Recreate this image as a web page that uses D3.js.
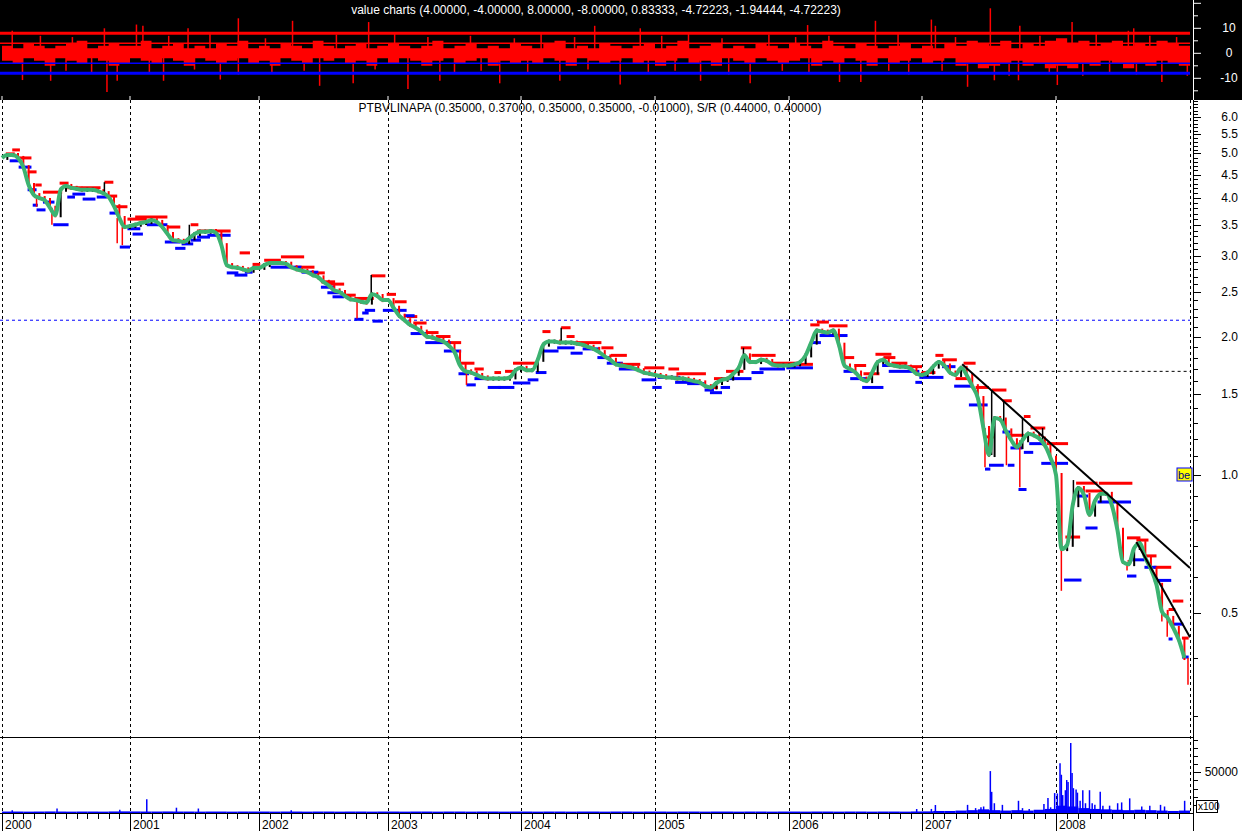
<!DOCTYPE html>
<html><head><meta charset="utf-8">
<script src="https://cdn.jsdelivr.net/npm/d3@7"></script>
<style>
body{margin:0;background:#fff;overflow:hidden}
text{font-family:"Liberation Sans",Arial,sans-serif}
</style>
</head><body>
<svg id="c" width="1242" height="831"></svg>
<script>
// ---------- DATA ----------
const years = [2000,2001,2002,2003,2004,2005,2006,2007,2008,2009];
const yearLabels = ["2000","2001","2002","2003","2004","2005","2006","2007","2008"];
const priceTicks = [0.5,1.0,1.5,2.0,2.5,3.0,3.5,4.0,4.5,5.0,5.5,6.0];
const valueTicks = [-10,0,10];
const volumeTicks = [50000];
const topTitle = "value charts (4.00000, -4.00000, 8.00000, -8.00000, 0.83333, -4.72223, -1.94444, -4.72223)";
const mainTitle = "PTBVLINAPA (0.35000, 0.37000, 0.35000, 0.35000, -0.01000), S/R (0.44000, 0.40000)";

// semi-monthly closes (24 per year, 2000..2008)
const closes = [
 4.89,4.96,4.96,4.89,4.67,4.27,4.06,4.00,3.96,3.81,3.67,4.17,4.25,4.21,4.19,4.17,4.17,4.17,4.14,4.10,4.02,3.84,3.62,3.46,
 3.48,3.50,3.53,3.55,3.58,3.55,3.46,3.34,3.24,3.23,3.21,3.27,3.34,3.38,3.38,3.39,3.36,3.16,2.86,2.83,2.82,2.80,2.78,2.82,
 2.82,2.86,2.89,2.89,2.89,2.88,2.83,2.80,2.78,2.76,2.72,2.69,2.63,2.58,2.52,2.50,2.45,2.41,2.40,2.38,2.37,2.47,2.45,2.40,
 2.40,2.31,2.22,2.17,2.12,2.09,2.05,2.00,1.99,1.97,1.95,1.91,1.85,1.73,1.68,1.67,1.65,1.63,1.62,1.62,1.62,1.62,1.63,1.69,
 1.71,1.69,1.69,1.78,1.92,1.95,1.95,1.94,1.94,1.94,1.93,1.92,1.90,1.88,1.85,1.81,1.78,1.74,1.73,1.72,1.71,1.69,1.67,1.66,
 1.65,1.64,1.63,1.63,1.62,1.62,1.61,1.60,1.59,1.56,1.55,1.585,1.61,1.62,1.66,1.71,1.82,1.76,1.76,1.78,1.77,1.74,1.73,1.73,
 1.73,1.74,1.76,1.82,1.94,2.06,2.05,2.04,2.06,1.92,1.73,1.70,1.67,1.62,1.60,1.67,1.76,1.78,1.74,1.73,1.72,1.72,1.70,1.66,
 1.65,1.67,1.72,1.76,1.73,1.67,1.65,1.71,1.65,1.56,1.47,1.265,1.105,1.33,1.32,1.25,1.19,1.15,1.19,1.23,1.22,1.20,1.16,1.09,
 1.00,0.69,0.705,0.86,0.937,0.905,0.82,0.88,0.91,0.91,0.86,0.76,0.647,0.64,0.694,0.711,0.66,0.625,0.577,0.504,0.489,0.465,0.438,0.40
];

// price wicks [decimal year, extreme price]
const wicks = [
 [2000.27,3.83],[2000.39,3.50],[2000.80,4.33],[2000.90,3.19],[2000.94,3.16],[2001.46,3.50],
 [2002.76,2.19],[2002.87,2.72],[2003.59,1.57],[2004.30,2.09],[2005.66,1.89],
 [2007.47,1.04],[2007.52,1.53],[2007.61,1.45],[2007.63,1.05],[2007.73,0.94],[2007.75,1.33],[2007.90,1.265],
 [2008.04,0.56],[2008.13,0.975],[2008.53,0.62],[2008.79,0.48],[2008.83,0.445],[2008.985,0.35]
];

// resistance segments [start, end, level]
const resistance = [
 [2000.03,2000.10,4.99],[2000.08,2000.14,5.09],[2000.12,2000.23,4.89],[2000.20,2000.27,4.56],[2000.26,2000.31,4.27],
 [2000.32,2000.47,4.12],[2000.45,2000.52,4.31],[2000.51,2000.77,4.21],[2000.80,2000.87,4.33],[2000.84,2000.90,4.04],
 [2000.88,2000.98,3.83],[2000.98,2001.13,3.60],[2001.04,2001.29,3.64],[2001.29,2001.39,3.46],[2001.47,2001.53,3.50],
 [2001.52,2001.78,3.39],[2001.85,2001.93,3.04],[2001.95,2002.01,2.87],[2002.04,2002.17,2.93],[2002.17,2002.35,2.98],
 [2002.30,2002.43,2.83],[2002.41,2002.51,2.75],[2002.48,2002.59,2.63],[2002.54,2002.66,2.60],[2002.64,2002.75,2.46],
 [2002.74,2002.89,2.42],[2002.87,2002.98,2.71],[2002.99,2003.06,2.47],[2003.05,2003.14,2.38],[2003.14,2003.22,2.21],
 [2003.19,2003.29,2.14],[2003.29,2003.38,2.04],[2003.36,2003.47,2.00],[2003.44,2003.55,1.94],[2003.53,2003.65,1.75],
 [2003.65,2003.72,1.70],[2003.80,2003.85,1.67],[2003.88,2003.95,1.68],[2003.94,2004.11,1.75],[2004.16,2004.22,2.05],
 [2004.30,2004.37,2.09],[2004.34,2004.40,2.00],[2004.40,2004.60,1.94],[2004.60,2004.69,1.89],[2004.67,2004.79,1.82],
 [2004.76,2004.89,1.74],[2004.92,2005.07,1.71],[2005.10,2005.18,1.70],[2005.16,2005.38,1.66],[2005.40,2005.47,1.55],
 [2005.44,2005.56,1.62],[2005.53,2005.66,1.68],[2005.64,2005.72,1.89],[2005.72,2005.90,1.82],[2005.88,2006.07,1.75],
 [2005.95,2006.18,1.74],[2006.16,2006.23,2.12],[2006.21,2006.30,2.15],[2006.30,2006.44,2.11],[2006.42,2006.49,1.80],
 [2006.49,2006.58,1.73],[2006.56,2006.68,1.66],[2006.65,2006.77,1.83],[2006.71,2006.80,1.80],[2006.77,2006.89,1.75],
 [2006.89,2007.00,1.72],[2007.00,2007.10,1.67],[2007.10,2007.16,1.82],[2007.15,2007.26,1.78],[2007.25,2007.34,1.62],
 [2007.31,2007.40,1.75],[2007.40,2007.50,1.55],[2007.47,2007.54,1.21],[2007.52,2007.63,1.53],[2007.60,2007.67,1.45],
 [2007.64,2007.76,1.22],[2007.76,2007.81,1.34],[2007.81,2007.92,1.265],[2007.93,2008.09,1.17],[2008.07,2008.18,0.733],
 [2008.15,2008.31,0.96],[2008.32,2008.57,0.96],[2008.22,2008.35,0.923],[2008.53,2008.63,0.73],[2008.60,2008.69,0.722],
 [2008.66,2008.75,0.667],[2008.73,2008.86,0.63],[2008.87,2008.95,0.532],[2008.84,2008.89,0.51],[2008.94,2008.99,0.442]
];

// support segments [start, end, level]
const support = [
 [2000.06,2000.14,4.82],[2000.13,2000.23,4.67],[2000.20,2000.27,4.17],[2000.24,2000.28,3.86],[2000.27,2000.34,3.77],
 [2000.32,2000.41,3.92],[2000.40,2000.52,3.50],[2000.51,2000.57,4.02],[2000.55,2000.65,4.08],[2000.63,2000.73,3.98],
 [2000.74,2000.82,4.02],[2000.84,2000.92,3.71],[2000.92,2001.00,3.13],[2000.98,2001.08,3.43],[2001.02,2001.10,3.34],
 [2001.13,2001.29,3.50],[2001.27,2001.39,3.21],[2001.35,2001.43,3.11],[2001.40,2001.49,3.18],[2001.47,2001.55,3.24],
 [2001.52,2001.62,3.29],[2001.60,2001.78,3.32],[2001.75,2001.84,2.75],[2001.81,2001.91,2.72],[2001.89,2001.95,2.76],
 [2001.95,2002.01,2.82],[2002.09,2002.33,2.83],[2002.33,2002.46,2.76],[2002.48,2002.59,2.56],[2002.53,2002.65,2.49],
 [2002.57,2002.66,2.44],[2002.74,2002.81,2.18],[2002.80,2002.85,2.25],[2002.82,2002.90,2.28],[2002.88,2002.96,2.16],
 [2002.96,2003.14,2.28],[2003.12,2003.20,2.22],[2003.17,2003.29,2.03],[2003.28,2003.47,1.94],[2003.42,2003.55,1.86],
 [2003.53,2003.61,1.66],[2003.59,2003.66,1.57],[2003.65,2003.77,1.62],[2003.75,2003.85,1.55],[2003.83,2003.95,1.55],
 [2003.94,2004.07,1.585],[2004.05,2004.13,1.61],[2004.11,2004.19,1.67],[2004.16,2004.28,1.86],[2004.27,2004.40,1.89],
 [2004.37,2004.46,1.84],[2004.46,2004.59,1.88],[2004.57,2004.67,1.80],[2004.64,2004.76,1.75],[2004.73,2004.87,1.70],
 [2004.90,2005.01,1.61],[2004.98,2005.05,1.55],[2005.02,2005.19,1.63],[2005.15,2005.28,1.59],[2005.24,2005.37,1.58],
 [2005.37,2005.44,1.53],[2005.41,2005.50,1.51],[2005.49,2005.56,1.55],[2005.54,2005.72,1.62],[2005.72,2005.81,1.67],
 [2005.78,2005.97,1.70],[2005.98,2006.18,1.71],[2006.17,2006.24,1.94],[2006.23,2006.44,2.01],[2006.41,2006.49,1.68],
 [2006.46,2006.58,1.62],[2006.55,2006.71,1.55],[2006.70,2006.77,1.73],[2006.75,2006.98,1.68],[2006.95,2007.00,1.59],
 [2006.98,2007.16,1.63],[2007.15,2007.25,1.72],[2007.24,2007.38,1.56],[2007.35,2007.49,1.42],[2007.47,2007.51,1.03],
 [2007.50,2007.61,1.05],[2007.60,2007.66,1.24],[2007.64,2007.69,1.05],[2007.66,2007.75,1.145],[2007.72,2007.78,0.93],
 [2007.76,2007.83,1.12],[2007.80,2007.92,1.17],[2007.89,2008.09,1.06],[2008.06,2008.19,0.591],[2008.16,2008.24,0.90],
 [2008.22,2008.31,0.767],[2008.31,2008.56,0.874],[2008.53,2008.60,0.603],[2008.57,2008.66,0.654],[2008.66,2008.75,0.63],
 [2008.73,2008.86,0.59],[2008.84,2008.87,0.44],[2008.85,2008.95,0.474],[2008.94,2008.99,0.402]
];

// trend lines [[t0,p0],[t1,p1]]
const trendLines = [
 [[2007.30,1.74],[2009.00,0.628]],
 [[2008.60,0.715],[2009.00,0.444]]
];
const blueLevel = 2.17;
const blackLevel = [2007.43, 1.68];
const beLevel = 1.0;

// value chart: monthly high / low envelope
const valueHigh = [
 3,2,4,3,2,3,4,5,2,3,4,3, 3,5,2,3,4,2,3,2,4,3,5,2, 3,2,4,3,2,5,3,2,3,4,2,3,
 4,3,2,3,5,2,3,4,2,3,2,4, 3,2,4,5,2,3,2,4,3,2,3,4, 2,3,5,2,3,4,2,3,2,4,3,2,
 4,3,2,5,3,2,4,3,2,3,4,2, 3,2,4,3,5,4,3,5,2,4,3,5, 6,4,5,3,4,5,3,4,3,5,4,3
];
const valueLow = [
 -3,-4,-2,-3,-5,-2,-3,-4,-2,-3,-5,-4, -2,-3,-4,-2,-3,-5,-2,-3,-4,-3,-2,-4,
 -3,-5,-2,-3,-4,-2,-3,-2,-4,-3,-5,-2, -4,-2,-3,-5,-3,-2,-4,-3,-2,-5,-3,-4,
 -3,-4,-2,-3,-5,-2,-3,-4,-3,-2,-4,-3, -5,-3,-2,-4,-3,-5,-2,-3,-4,-2,-3,-4,
 -3,-2,-5,-3,-4,-2,-3,-5,-2,-4,-3,-2, -4,-3,-2,-5,-4,-6,-5,-4,-3,-5,-4,-6,
 -5,-6,-4,-5,-3,-4,-6,-4,-5,-3,-4,-5
];
const valueSpikes = [
 [2000.08,9],[2000.80,10],[2001.05,11.5],[2001.10,11],[2001.45,10],[2001.84,14],[2002.26,13],[2002.85,12.5],
 [2004.55,11],[2004.89,10],[2006.14,11.3],[2006.65,13],[2007.07,13.5],[2007.10,11],[2007.51,18],[2007.73,11],
 [2008.12,12.5],[2008.54,9],[2008.58,10],
 [2000.16,-10.7],[2000.38,-11],[2000.82,-15.5],[2000.90,-11],[2001.26,-11],[2001.70,-10.5],[2001.84,-8.5],
 [2002.47,-13],[2002.73,-12],[2003.15,-14.3],[2003.39,-11],[2003.84,-12],[2004.29,-11],[2004.74,-12.5],
 [2005.34,-11],[2005.71,-12],[2006.38,-11.5],[2006.54,-11.5],[2007.34,-13.4],[2007.54,-10.8],[2007.72,-10.8],
 [2008.01,-12.7],[2008.79,-11.5],[2008.98,-9],
 [2000.30,7],[2000.55,6.5],[2001.30,7],[2001.62,8],[2002.05,6],[2002.60,7.5],[2003.05,8],[2003.30,6.5],
 [2003.62,7],[2003.95,6],[2004.15,8],[2004.40,6.5],[2005.05,7],[2005.25,8.5],[2005.50,6],[2005.85,7.5],
 [2006.05,6.5],[2006.30,7],[2006.82,8],[2007.25,6.5],[2007.88,7],[2008.30,8],[2008.70,7],[2008.90,6.5],
 [2000.50,-7],[2000.70,-8],[2001.15,-7.5],[2001.50,-6.5],[2002.10,-8],[2002.35,-7],[2002.90,-6.5],[2003.50,-8],
 [2003.70,-7],[2004.05,-7.5],[2004.50,-6.5],[2004.95,-8],[2005.15,-7],[2005.55,-8.5],[2005.95,-7],[2006.15,-8],
 [2006.75,-7],[2006.90,-8.5],[2007.15,-7],[2007.65,-9],[2007.95,-8],[2008.20,-9],[2008.40,-7.5],[2008.60,-8.5]
];
const valueLevels = [8,4,-4,-8];

// volume (x100): monthly base + spikes
const volumeBase = [
 1800,1800,1700,1800,1900,1800,1700,1800,1800,1700,1900,2000,
 1900,1800,1800,1900,1800,1800,1700,1800,1800,1700,1800,1800,
 1800,1700,1800,1800,1700,1800,1800,1700,1800,1800,1700,1800,
 1800,1700,1800,1800,1700,1800,1800,1700,1800,1800,1700,1800,
 1800,1700,1800,1800,1700,1800,1800,1700,1800,1800,1700,1800,
 1800,1700,1800,1800,1700,1800,1800,1700,1800,1800,1700,1800,
 1800,1700,1800,1800,1700,1800,1800,1700,1800,1800,1700,1900,
 2000,2500,2500,3000,3500,4500,3500,3000,3500,3000,4000,5000,
 9000,8000,6000,5000,4500,4000,3500,4000,3500,3000,2500,3000
];
const volumeSpikes = [
 [2000.08,3500],[2000.43,5500],[2000.92,4000],[2001.13,17000],[2001.36,6500],[2001.53,5500],[2002.25,3500],
 [2006.96,4900],[2007.07,5000],[2007.10,9800],[2007.34,10000],[2007.40,6000],[2007.44,7000],[2007.46,8000],
 [2007.51,51500],[2007.52,26000],[2007.54,12000],[2007.60,10000],[2007.72,15000],[2007.75,6000],[2007.80,4900],
 [2007.91,11000],[2007.94,18500],[2007.96,7000],[2007.99,24500],[2008.01,24000],[2008.03,61000],[2008.04,47000],
 [2008.05,22000],[2008.07,28000],[2008.08,40500],[2008.09,38000],[2008.11,86000],[2008.12,49000],[2008.13,30500],
 [2008.15,29000],[2008.16,25000],[2008.18,15000],[2008.20,28000],[2008.22,12000],[2008.25,28000],[2008.27,12000],
 [2008.29,10000],[2008.33,26000],[2008.35,9000],[2008.40,9000],[2008.46,12000],[2008.49,13000],[2008.55,18000],
 [2008.64,8000],[2008.70,9000],[2008.78,10000],[2008.81,8000],[2008.96,15000]
];

// ---------- LAYOUT ----------
const svg = d3.select("#c");
const axisX = 1193;
const x = d3.scaleLinear().domain(years).range([2,130,259,388,521,655,789,922,1056,1190]);
const yP = d3.scaleLog().domain([0.2694, 6.535]).range([737, 100]);
const yV = d3.scaleLinear().domain([-15, 20]).range([90.8, 3.3]);
const yVol = d3.scaleLinear().domain([0, 50000]).range([813, 772.3]);
const tOf = i => 2000 + i/24;

// ---------- TOP PANEL ----------
svg.append("rect").attr("x",0).attr("y",0).attr("width",1242).attr("height",100).attr("fill","#000");
const band = valueHigh.map((h,m)=>({t:2000+m/12, hi:h, lo:valueLow[m]}));
band.push({t:2009, hi:valueHigh[valueHigh.length-1], lo:valueLow[valueLow.length-1]});
svg.append("path").datum(band)
  .attr("d", d3.area().x(d=>x(d.t)).y0(d=>yV(d.lo)).y1(d=>yV(d.hi)).curve(d3.curveStepAfter))
  .attr("fill","#ff0000");
svg.append("g").selectAll("line").data(valueSpikes).join("line")
  .attr("x1",d=>x(d[0])).attr("x2",d=>x(d[0]))
  .attr("y1",yV(0)).attr("y2",d=>yV(d[1]))
  .attr("stroke","#ff0000").attr("stroke-width",1.5);
svg.append("g").selectAll("line").data(valueLevels).join("line")
  .attr("x1",0).attr("x2",x(2009)).attr("y1",d=>yV(d)).attr("y2",d=>yV(d))
  .attr("stroke",d=>d>0?"#ff0000":"#0000ff")
  .attr("stroke-width",d=>Math.abs(d)>5?3:1.5);
svg.append("text").attr("x",596).attr("y",14).attr("text-anchor","middle")
  .attr("font-size",12).attr("fill","#fff").text(topTitle);
const topAxis = svg.append("g");
topAxis.append("line").attr("x1",axisX+0.5).attr("x2",axisX+0.5).attr("y1",0).attr("y2",100).attr("stroke","#fff");
topAxis.selectAll("line.t").data(d3.range(-15,21,5)).join("line").attr("class","t")
  .attr("x1",axisX).attr("x2",d=>axisX+(d%10===0?8:5)).attr("y1",d=>yV(d)).attr("y2",d=>yV(d))
  .attr("stroke","#fff");
topAxis.selectAll("text").data(valueTicks).join("text")
  .attr("x",1229).attr("y",d=>yV(d)+4).attr("text-anchor","middle")
  .attr("font-size",12).attr("fill","#fff").text(d=>d);
svg.append("g").selectAll("line").data(years.slice(0,9)).join("line")
  .attr("x1",d=>x(d)).attr("x2",d=>x(d)).attr("y1",96).attr("y2",100).attr("stroke","#fff");

// ---------- MAIN PANEL ----------
const main = svg.append("g");
main.selectAll("line.grid").data(years).join("line").attr("class","grid")
  .attr("x1",d=>Math.round(x(d))+0.5).attr("x2",d=>Math.round(x(d))+0.5)
  .attr("y1",100).attr("y2",813).attr("stroke","#000").attr("stroke-dasharray","3,3");
main.append("line").attr("x1",0).attr("x2",x(2009)).attr("y1",yP(blueLevel)).attr("y2",yP(blueLevel))
  .attr("stroke","#0000ff").attr("stroke-dasharray","3,3");
main.append("line").attr("x1",x(blackLevel[0])).attr("x2",x(2009)).attr("y1",yP(blackLevel[1])).attr("y2",yP(blackLevel[1]))
  .attr("stroke","#000").attr("stroke-dasharray","3,3");
svg.append("text").attr("x",590).attr("y",112).attr("text-anchor","middle")
  .attr("font-size",12).attr("fill","#000").text(mainTitle);

main.append("g").selectAll("line").data(resistance).join("line")
  .attr("x1",d=>x(d[0])).attr("x2",d=>x(d[1])).attr("y1",d=>yP(d[2])).attr("y2",d=>yP(d[2]))
  .attr("stroke","#ff0000").attr("stroke-width",3);
main.append("g").selectAll("line").data(support).join("line")
  .attr("x1",d=>x(d[0])).attr("x2",d=>x(d[1])).attr("y1",d=>yP(d[2])).attr("y2",d=>yP(d[2]))
  .attr("stroke","#0000ff").attr("stroke-width",3);

const bars = closes.slice(1).map((c,i)=>({t:tOf(i+1), a:closes[i], b:c}));
main.append("g").selectAll("line").data(bars).join("line")
  .attr("x1",d=>x(d.t)).attr("x2",d=>x(d.t))
  .attr("y1",d=>yP(Math.max(d.a,d.b))-2).attr("y2",d=>yP(Math.min(d.a,d.b))+2)
  .attr("stroke",d=>d.b<d.a?"#ff0000":"#000").attr("stroke-width",2);
const closeAt = t => {
  const i = Math.max(0, Math.min(closes.length-1, Math.round((t-2000)*24)));
  return closes[i];
};
main.append("g").selectAll("line").data(wicks).join("line")
  .attr("x1",d=>x(d[0])).attr("x2",d=>x(d[0]))
  .attr("y1",d=>yP(closeAt(d[0]))).attr("y2",d=>yP(d[1]))
  .attr("stroke",d=>d[1]<closeAt(d[0])?"#ff0000":"#000").attr("stroke-width",1.5);

main.append("path").datum(closes)
  .attr("d", d3.line().x((d,i)=>x(tOf(i))).y(d=>yP(d)).curve(d3.curveMonotoneX))
  .attr("fill","none").attr("stroke","#3cb371").attr("stroke-width",4).attr("stroke-linejoin","round");

main.append("g").selectAll("line").data(trendLines).join("line")
  .attr("x1",d=>x(d[0][0])).attr("y1",d=>yP(d[0][1]))
  .attr("x2",d=>x(d[1][0])).attr("y2",d=>yP(d[1][1]))
  .attr("stroke","#000").attr("stroke-width",2);

const beY = yP(beLevel);
main.append("rect").attr("x",x(2009)-13).attr("y",beY-7).attr("width",15).attr("height",13)
  .attr("fill","#ffff00").attr("stroke","#0000ff").attr("stroke-width",1);
main.append("text").attr("x",x(2009)-12).attr("y",beY+4).attr("font-size",11).attr("fill","#000080").text("be");

svg.append("line").attr("x1",0).attr("x2",axisX).attr("y1",737.5).attr("y2",737.5).attr("stroke","#000");

const ra = svg.append("g");
ra.append("line").attr("x1",axisX+0.5).attr("x2",axisX+0.5).attr("y1",100).attr("y2",831).attr("stroke","#000");
const minorP = d3.range(3,66).map(v=>v/10).filter(v=>yP(v)>=100 && yP(v)<=737);
ra.selectAll("line.mt").data(minorP).join("line").attr("class","mt")
  .attr("x1",axisX).attr("x2",d=>axisX+(priceTicks.some(p=>Math.abs(p-d)<1e-6)?8:5))
  .attr("y1",d=>Math.round(yP(d))+0.5).attr("y2",d=>Math.round(yP(d))+0.5).attr("stroke","#000");
ra.selectAll("text.pl").data(priceTicks).join("text").attr("class","pl")
  .attr("x",1238).attr("y",d=>yP(d)+4).attr("text-anchor","end").attr("font-size",12)
  .text(d=>d.toFixed(1));

// ---------- VOLUME ----------
const vol = svg.append("g");
vol.selectAll("rect").data(volumeBase).join("rect")
  .attr("x",(d,m)=>x(2000+m/12)).attr("width",(d,m)=>x(2000+(m+1)/12)-x(2000+m/12))
  .attr("y",d=>yVol(d)).attr("height",d=>yVol(0)-yVol(d)).attr("fill","#0000ff");
vol.selectAll("line").data(volumeSpikes).join("line")
  .attr("x1",d=>x(d[0])).attr("x2",d=>x(d[0])).attr("y1",yVol(0)).attr("y2",d=>yVol(d[1]))
  .attr("stroke","#0000ff").attr("stroke-width",1.5);
const volTicks = d3.range(10000,100000,10000);
ra.selectAll("line.vt").data(volTicks).join("line").attr("class","vt")
  .attr("x1",axisX).attr("x2",d=>axisX+(volumeTicks.includes(d)?8:5))
  .attr("y1",d=>Math.round(yVol(d))+0.5).attr("y2",d=>Math.round(yVol(d))+0.5).attr("stroke","#000");
ra.selectAll("text.vl").data(volumeTicks).join("text").attr("class","vl")
  .attr("x",1238).attr("y",d=>yVol(d)+4).attr("text-anchor","end").attr("font-size",12).text(d=>d);
ra.append("rect").attr("x",1196.5).attr("y",800.5).attr("width",21).attr("height",12)
  .attr("fill","#fff").attr("stroke","#000");
ra.append("text").attr("x",1198).attr("y",810).attr("font-size",10).text("x100");

// ---------- X AXIS ----------
const xa = svg.append("g");
xa.append("line").attr("x1",0).attr("x2",axisX).attr("y1",813.5).attr("y2",813.5).attr("stroke","#000");
const months = d3.range(0,108).filter(m=>m%12!==0);
xa.selectAll("line.m").data(months).join("line").attr("class","m")
  .attr("x1",m=>Math.round(x(2000+m/12))+0.5).attr("x2",m=>Math.round(x(2000+m/12))+0.5)
  .attr("y1",813).attr("y2",819).attr("stroke","#000");
xa.selectAll("line.y").data(years.slice(0,9)).join("line").attr("class","y")
  .attr("x1",d=>Math.round(x(d))+0.5).attr("x2",d=>Math.round(x(d))+0.5)
  .attr("y1",813).attr("y2",831).attr("stroke","#000");
xa.selectAll("text").data(yearLabels).join("text")
  .attr("x",(d,i)=>x(years[i])+3).attr("y",829).attr("font-size",12).text(d=>d);
</script>
</body></html>
